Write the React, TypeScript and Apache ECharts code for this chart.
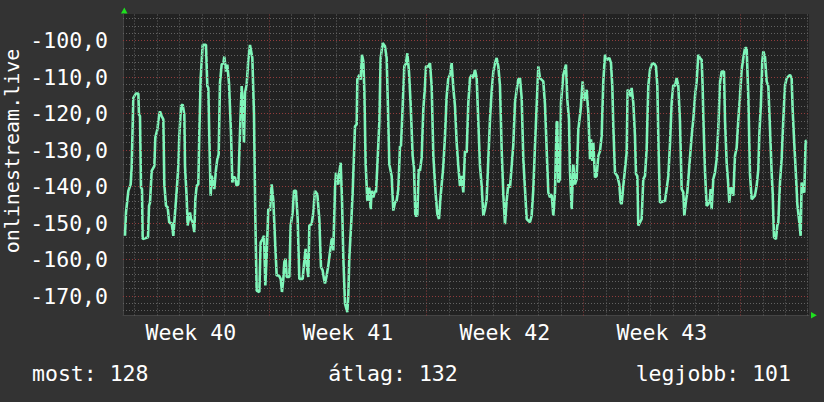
import React, { useEffect, useRef } from "react";
import * as echarts from "echarts";

// time in days since the start of Week 40, value (negative rank)
const week40: [number, number][] = [
  [0.566,-153.5],[0.611,-147.1],[0.715,-141.2],[0.819,-139.4],[0.863,-134.8],[0.938,-115.7],[1.057,-114.5],[1.161,-114.5],[1.190,-120.3],[1.235,-120.7],[1.279,-140.3],[1.324,-140.7],[1.354,-154.4],[1.592,-153.9],[1.636,-145.3],[1.681,-144.4],[1.755,-135.7],[1.874,-134.4],[1.918,-126.6],[2.007,-124.4],[2.082,-120.7],[2.126,-119.4],[2.201,-120.7],[2.275,-121.6],[2.320,-139.4],[2.394,-145.3],[2.468,-145.7],[2.542,-150.0],[2.647,-150.0],[2.721,-153.5],[2.765,-149.8],[2.870,-141.2],[2.944,-134.4],[2.988,-126.2],[3.063,-118.0],[3.137,-117.5],[3.211,-120.3],[3.241,-134.4],[3.315,-143.0],[3.360,-150.7],[3.464,-147.1],[3.508,-148.9],[3.583,-149.8],[3.657,-152.5],[3.702,-143.5],[3.761,-139.8],[3.835,-139.4],[3.880,-125.3],[3.940,-110.3],[4.029,-101.2],[4.177,-101.2],[4.236,-112.5],[4.281,-113.0],[4.326,-126.6],[4.385,-142.5],[4.430,-137.1],[4.504,-138.9],[4.548,-140.7],[4.623,-135.3],[4.682,-132.5],[4.742,-131.2],[4.801,-111.6],[4.876,-106.6],[4.950,-106.2],[4.994,-104.4],[5.069,-108.5],[5.128,-106.6],[5.202,-111.6],[5.292,-125.3],[5.351,-138.9],[5.395,-137.5],[5.470,-137.5],[5.544,-139.8],[5.618,-139.4],[5.693,-125.3],[5.767,-112.5],[5.812,-117.1],[5.871,-128.0],[5.916,-114.4],[5.990,-112.1],[6.064,-105.3],[6.139,-101.2],[6.243,-104.8],[6.317,-120.3],[6.376,-148.5],[6.436,-168.5],[6.555,-168.9],[6.614,-155.3],[6.703,-154.4],[6.763,-153.5],[6.822,-167.1],[6.882,-158.9],[6.956,-146.2]
];
const week41: [number, number][] = [
  [7.030,-146.6],[7.105,-139.4],[7.179,-143.9],[7.253,-154.4],[7.328,-164.4],[7.432,-164.4],[7.506,-165.3],[7.565,-168.9],[7.625,-165.3],[7.669,-160.7],[7.729,-159.8],[7.773,-164.8],[7.892,-164.8],[7.952,-150.7],[8.041,-147.1],[8.100,-141.2],[8.189,-141.2],[8.264,-148.9],[8.338,-165.3],[8.487,-165.3],[8.546,-161.2],[8.620,-157.1],[8.680,-162.1],[8.739,-164.8],[8.784,-150.7],[8.888,-150.3],[8.962,-147.1],[9.036,-141.2],[9.140,-142.1],[9.229,-148.9],[9.304,-162.1],[9.378,-163.0],[9.437,-165.3],[9.482,-166.6],[9.557,-164.4],[9.631,-161.6],[9.705,-158.0],[9.780,-154.4],[9.824,-154.4],[9.854,-157.5],[9.928,-140.7],[9.973,-136.2],[10.032,-138.9],[10.077,-139.4],[10.121,-136.2],[10.181,-133.5],[10.240,-143.5],[10.299,-159.4],[10.374,-172.1],[10.478,-174.4],[10.522,-169.8],[10.567,-159.4],[10.656,-149.4],[10.716,-141.6],[10.820,-123.5],[10.894,-123.0],[10.924,-110.7],[11.013,-109.4],[11.072,-110.7],[11.132,-103.9],[11.191,-105.7],[11.236,-113.5],[11.295,-133.9],[11.369,-143.9],[11.458,-140.3],[11.518,-146.2],[11.563,-141.2],[11.637,-143.0],[11.711,-141.2],[11.756,-141.6],[11.815,-134.4],[11.904,-122.5],[11.964,-104.8],[12.053,-100.7],[12.157,-101.6],[12.231,-104.8],[12.291,-118.9],[12.350,-133.9],[12.454,-137.1],[12.528,-146.6],[12.603,-144.4],[12.677,-143.9],[12.751,-140.7],[12.826,-128.9],[12.870,-128.9],[12.945,-118.0],[13.019,-107.1],[13.093,-106.2],[13.153,-103.5],[13.227,-108.5],[13.301,-117.5],[13.390,-131.6],[13.450,-134.8],[13.509,-148.0],[13.598,-148.0],[13.658,-135.3],[13.717,-135.7],[13.792,-132.1],[13.866,-118.9],[13.940,-112.5],[13.985,-107.1]
];
const week42: [number, number][] = [
  [14.089,-107.1],[14.163,-106.2],[14.238,-112.5],[14.312,-131.6],[14.416,-142.1],[14.490,-147.5],[14.564,-148.9],[14.639,-142.5],[14.757,-134.4],[14.832,-126.2],[14.906,-115.3],[14.980,-110.3],[15.055,-109.4],[15.129,-106.2],[15.203,-113.0],[15.278,-118.0],[15.352,-128.0],[15.426,-134.4],[15.500,-139.8],[15.575,-137.1],[15.649,-141.6],[15.723,-130.3],[15.798,-130.7],[15.872,-117.1],[15.946,-110.3],[16.021,-109.4],[16.095,-110.3],[16.169,-108.0],[16.244,-110.3],[16.288,-117.5],[16.392,-134.4],[16.467,-139.8],[16.541,-148.0],[16.615,-146.2],[16.689,-143.5],[16.764,-132.5],[16.838,-121.6],[16.912,-113.9],[16.987,-108.5],[17.061,-106.2],[17.135,-104.8],[17.210,-107.1],[17.284,-112.5],[17.358,-129.8],[17.432,-142.1],[17.507,-150.3],[17.581,-143.9],[17.655,-139.4],[17.730,-140.3],[17.804,-134.4],[17.878,-128.5],[17.952,-117.1],[18.027,-113.5],[18.101,-110.7],[18.175,-110.3],[18.250,-115.7],[18.324,-132.5],[18.398,-140.7],[18.473,-148.9],[18.621,-149.8],[18.695,-148.0],[18.770,-140.7],[18.844,-128.9],[18.918,-118.0],[18.993,-107.1],[19.067,-110.3],[19.215,-111.2],[19.290,-117.5],[19.364,-129.8],[19.438,-141.6],[19.513,-143.0],[19.587,-142.1],[19.661,-148.0],[19.735,-141.6],[19.810,-122.5],[19.839,-122.1],[19.884,-138.9],[19.958,-138.0],[20.003,-117.1],[20.107,-109.4],[20.226,-106.6],[20.285,-116.2],[20.360,-121.6],[20.404,-135.7],[20.479,-146.2],[20.553,-133.9],[20.627,-139.4],[20.702,-138.0],[20.776,-124.4],[20.880,-118.9],[20.969,-111.2]
];
const week43: [number, number][] = [
  [21.029,-116.2],[21.073,-116.2],[21.148,-113.5],[21.222,-119.8],[21.296,-132.5],[21.341,-127.1],[21.400,-133.0],[21.445,-128.0],[21.519,-137.5],[21.593,-137.1],[21.668,-131.6],[21.742,-130.3],[21.816,-126.2],[21.890,-111.2],[21.965,-103.9],[22.039,-105.3],[22.158,-104.8],[22.232,-106.2],[22.291,-112.5],[22.336,-123.5],[22.410,-136.2],[22.514,-137.1],[22.603,-139.4],[22.663,-144.4],[22.708,-144.8],[22.782,-139.8],[22.856,-135.3],[22.931,-130.7],[22.975,-113.5],[23.049,-113.9],[23.109,-115.3],[23.153,-113.0],[23.228,-117.1],[23.302,-126.2],[23.347,-136.6],[23.406,-137.1],[23.450,-150.7],[23.599,-148.9],[23.673,-138.0],[23.748,-137.1],[23.822,-129.8],[23.896,-112.5],[23.971,-108.0],[24.045,-106.6],[24.149,-106.2],[24.238,-107.1],[24.298,-112.5],[24.357,-130.7],[24.416,-144.4],[24.639,-143.9],[24.714,-140.7],[24.788,-137.1],[24.862,-128.5],[24.937,-117.1],[25.011,-112.1],[25.085,-112.5],[25.160,-110.3],[25.234,-112.5],[25.308,-122.1],[25.383,-140.7],[25.457,-141.6],[25.501,-148.0],[25.576,-143.9],[25.635,-141.6],[25.724,-134.4],[25.828,-126.2],[25.902,-121.6],[25.977,-115.3],[26.051,-111.2],[26.125,-103.9],[26.200,-104.8],[26.274,-105.3],[26.318,-112.5],[26.348,-120.7],[26.422,-135.7],[26.497,-145.3],[26.571,-144.8],[26.645,-143.5],[26.675,-140.7],[26.720,-146.2],[26.794,-138.0],[26.868,-136.2],[26.943,-132.5],[27.017,-123.9],[27.091,-111.6],[27.166,-108.5],[27.270,-108.5],[27.314,-121.6],[27.389,-133.5],[27.463,-139.8],[27.507,-144.4],[27.567,-140.3],[27.626,-140.7],[27.686,-142.5],[27.760,-131.6],[27.835,-129.4],[27.909,-121.6],[27.983,-115.3]
];
const week44: [number, number][] = [
  [28.057,-108.0],[28.132,-104.8],[28.206,-102.1],[28.280,-102.1],[28.355,-115.3],[28.429,-136.6],[28.503,-143.5],[28.652,-142.5],[28.726,-139.8],[28.800,-135.3],[28.845,-125.7],[28.919,-117.1],[28.978,-105.7],[29.023,-103.0],[29.097,-104.4],[29.172,-111.2],[29.246,-112.5],[29.320,-123.9],[29.395,-136.2],[29.439,-141.6],[29.499,-153.9],[29.588,-154.4],[29.647,-150.7],[29.692,-149.8],[29.766,-138.9],[29.840,-132.5],[29.915,-121.6],[29.989,-112.5],[30.063,-110.3],[30.212,-109.4],[30.286,-110.3],[30.331,-118.9],[30.390,-126.6],[30.479,-137.1],[30.539,-144.8],[30.613,-148.9],[30.687,-153.5],[30.732,-138.9],[30.776,-141.2],[30.850,-141.6],[30.910,-127.5],[30.954,-127.5]
];

const weekLabels = ["Week 40", "Week 41", "Week 42", "Week 43"];
const weekLabelDays = [3.5, 10.5, 17.5, 24.5];
const yTickValues = [-170, -160, -150, -140, -130, -120, -110, -100];
const dayLines = [1,2,3,4,5,6,7,8,9,10,11,12,13,14,15,16,17,18,19,20,21,22,23,24,25,26,27,28,29,30,31];
const yMinorLines = [-174,-172,-170,-168,-166,-164,-162,-160,-158,-156,-154,-152,-150,-148,-146,-144,-142,-140,-138,-136,-134,-132,-130,-128,-126,-124,-122,-120,-118,-116,-114,-112,-110,-108,-106,-104,-102,-100,-98,-96,-94];
const axisTitle = "onlinestream.live";
const statTexts = ["most: 128", "átlag: 132", "legjobb: 101"];

const X_MIN = 0.477;
const X_MAX = 31.06;
const Y_MIN = -175.34;
const Y_MAX = -92.74;

const FONT = "'DejaVu Sans Mono', monospace";
const GRAY = "#626262";
const RED = "#903c3c";

export default function App() {
  const ref = useRef<HTMLDivElement>(null);
  useEffect(() => {
    if (!ref.current) return;
    const chart = echarts.init(ref.current, undefined, { renderer: "svg" });
    const data = [...week40, ...week41, ...week42, ...week43, ...week44];
    const dotted = [1, 2];
    const vLines = dayLines.map((d) => ({
      xAxis: d,
      lineStyle: { color: d % 7 === 0 ? RED : GRAY, type: dotted, width: 1 },
    }));
    const hLines = yMinorLines.map((v) => ({
      yAxis: v,
      lineStyle: { color: v % 10 === 0 ? RED : GRAY, type: dotted, width: 1 },
    }));
    chart.setOption({
      animation: false,
      backgroundColor: "#333333",
      grid: {
        left: 123,
        right: 15,
        top: 14,
        bottom: 86.5,
        show: true,
        backgroundColor: "#222222",
        borderWidth: 0,
      },
      xAxis: {
        type: "value",
        min: X_MIN,
        max: X_MAX,
        splitLine: { show: false },
        axisTick: { show: false },
        axisLine: { show: true, onZero: false, lineStyle: { color: "#444444", width: 1 } },
        axisLabel: {
          customValues: weekLabelDays,
          formatter: (v: number) => weekLabels[weekLabelDays.indexOf(v)] ?? "",
          color: "#ffffff",
          fontFamily: FONT,
          fontSize: 21.5,
          margin: 6,
        },
      },
      yAxis: {
        type: "value",
        min: Y_MIN,
        max: Y_MAX,
        splitLine: { show: false },
        axisTick: { show: false },
        axisLine: { show: true, onZero: false, lineStyle: { color: "#444444", width: 1 } },
        axisLabel: {
          customValues: yTickValues,
          formatter: (v: number) => v.toFixed(1).replace(".", ","),
          color: "#ffffff",
          fontFamily: FONT,
          fontSize: 21.5,
          margin: 15,
        },
      },
      graphic: [
        {
          type: "text",
          x: 12,
          y: 151,
          rotation: Math.PI / 2,
          style: {
            text: axisTitle,
            fill: "#ffffff",
            font: `20px ${FONT}`,
            align: "center",
            verticalAlign: "middle",
          },
        },
        {
          type: "text",
          x: 32,
          y: 373,
          style: { text: statTexts[0], fill: "#ffffff", font: `21.5px ${FONT}`, align: "left", verticalAlign: "middle" },
        },
        {
          type: "text",
          x: 393,
          y: 373,
          style: { text: statTexts[1], fill: "#ffffff", font: `21.5px ${FONT}`, align: "center", verticalAlign: "middle" },
        },
        {
          type: "text",
          x: 791,
          y: 373,
          style: { text: statTexts[2], fill: "#ffffff", font: `21.5px ${FONT}`, align: "right", verticalAlign: "middle" },
        },
        {
          type: "polygon",
          shape: { points: [[121, 13.5], [127.5, 13.5], [124.3, 7.5]] },
          style: { fill: "#1fe01f" },
        },
        {
          type: "polygon",
          shape: { points: [[811, 312], [811, 318.5], [816.8, 315.3]] },
          style: { fill: "#1fe01f" },
        },
      ],
      series: [
        {
          type: "line",
          data: [],
          z: 1,
          silent: true,
          markLine: {
            silent: true,
            symbol: ["none", "none"],
            label: { show: false },
            animation: false,
            data: [...vLines, ...hLines],
          },
        },
        {
          type: "line",
          data,
          z: 3,
          showSymbol: false,
          symbol: "none",
          lineStyle: { color: "#7ff5b9", width: 2.6 },
          silent: true,
        },
      ],
    });
    return () => chart.dispose();
  }, []);
  return (
    <div
      ref={ref}
      style={{ position: "fixed", left: 0, top: 0, width: 824, height: 402 }}
    />
  );
}
